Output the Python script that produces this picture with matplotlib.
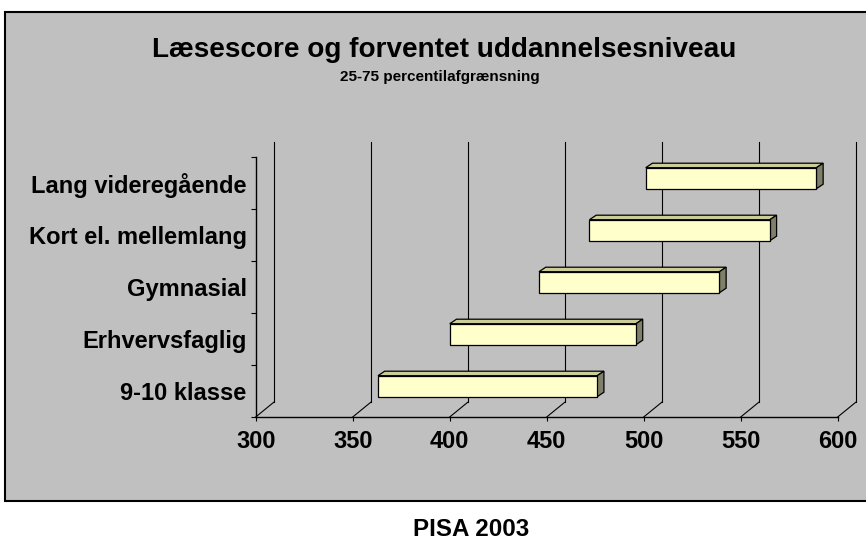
import matplotlib
matplotlib.use("Agg")
import matplotlib.pyplot as plt
from matplotlib.patches import Rectangle, Polygon

# ---- data ----
categories = ["9-10 klasse", "Erhvervsfaglig", "Gymnasial",
              "Kort el. mellemlang", "Lang videregående"]
p25 = [360, 397, 443, 469, 498]
p75 = [473, 493, 536, 562, 586]
xticks = [300, 350, 400, 450, 500, 550, 600]
title = "Læsescore og forventet uddannelsesniveau"
subtitle = "25-75 percentilafgrænsning"
footer = "PISA 2003"

plt.rcParams["font.family"] = ["Liberation Sans", "DejaVu Sans"]
plt.rcParams["font.weight"] = "bold"

W, H = 866, 541
fig = plt.figure(figsize=(W / 100, H / 100), dpi=100)
fig.patch.set_facecolor("white")

panel = Rectangle((5 / W, (H - 501) / H), 1.0, (501 - 12) / H,
                  transform=fig.transFigure, facecolor="#C0C0C0",
                  edgecolor="black", lw=1.5, zorder=-5)
fig.patches.append(panel)

ax = fig.add_axes([255.7 / W, 124 / H, 582 / W, 260 / H])
ax.set_zorder(2)
ax.set_facecolor("none")
ax.set_xlim(300, 600)
ax.set_ylim(0, 5)

px_x = 582 / 300.0
px_y = 52.0
def dx(p):
    return p / px_x
def dy(p):
    return p / px_y

# back wall gridlines and floor diagonals
wdx, wdy = dx(18), dy(14.7)
for v in xticks:
    ax.plot([v, v + wdx], [0, wdy], color="black", lw=0.8, clip_on=False, zorder=1)
    ax.plot([v + wdx, v + wdx], [wdy, 5 + wdy], color="black", lw=0.8,
            clip_on=False, zorder=1)

# bars
fx, fy = dx(5.9), dy(4.8)
h = dy(21)
bdx, bdy = dx(6.7), dy(4.5)
for i, (lo, hi) in enumerate(zip(p25, p75)):
    y0 = i + 0.5 + fy - h / 2
    y1 = y0 + h
    x0, x1 = lo + fx, hi + fx
    top = Polygon([(x0, y1), (x1, y1), (x1 + bdx, y1 + bdy), (x0 + bdx, y1 + bdy)],
                  closed=True, facecolor="#CCCC99", edgecolor="black", lw=0.9,
                  zorder=3, clip_on=False)
    side = Polygon([(x1, y0), (x1 + bdx, y0 + bdy), (x1 + bdx, y1 + bdy), (x1, y1)],
                   closed=True, facecolor="#80806A", edgecolor="black", lw=0.9,
                   zorder=3, clip_on=False)
    front = Rectangle((x0, y0), x1 - x0, h, facecolor="#FFFFCC",
                      edgecolor="black", lw=0.9, zorder=4, clip_on=False)
    ax.add_patch(top)
    ax.add_patch(side)
    ax.add_patch(front)

for s in ["top", "right"]:
    ax.spines[s].set_visible(False)
for s in ["left", "bottom"]:
    ax.spines[s].set_color("black")
    ax.spines[s].set_linewidth(1.0)

ax.set_xticks(xticks)
ax.set_xticklabels([str(t) for t in xticks], fontsize=17, fontweight="bold")
ax.tick_params(axis="x", direction="out", length=2.9, width=0.8, pad=6.5)

ax.set_yticks(range(6))
ax.set_yticklabels([""] * 6)
ax.tick_params(axis="y", which="major", direction="out", length=3.6, width=0.8)
ax.set_yticks([i + 0.5 for i in range(len(categories))], minor=True)
ax.set_yticklabels(categories, minor=True, fontsize=17, fontweight="bold")
ax.tick_params(axis="y", which="minor", length=0, pad=6.5)

fig.text(151.7 / W, (H - 56.7) / H, title, ha="left", va="baseline",
         fontsize=20.1, fontweight="bold")
fig.text(340 / W, (H - 80.7) / H, subtitle, ha="left", va="baseline",
         fontsize=11, fontweight="bold")
fig.text(412.7 / W, 5 / H, footer, ha="left", va="baseline",
         fontsize=17.4, fontweight="bold")

fig.savefig("out.png", dpi=100)
